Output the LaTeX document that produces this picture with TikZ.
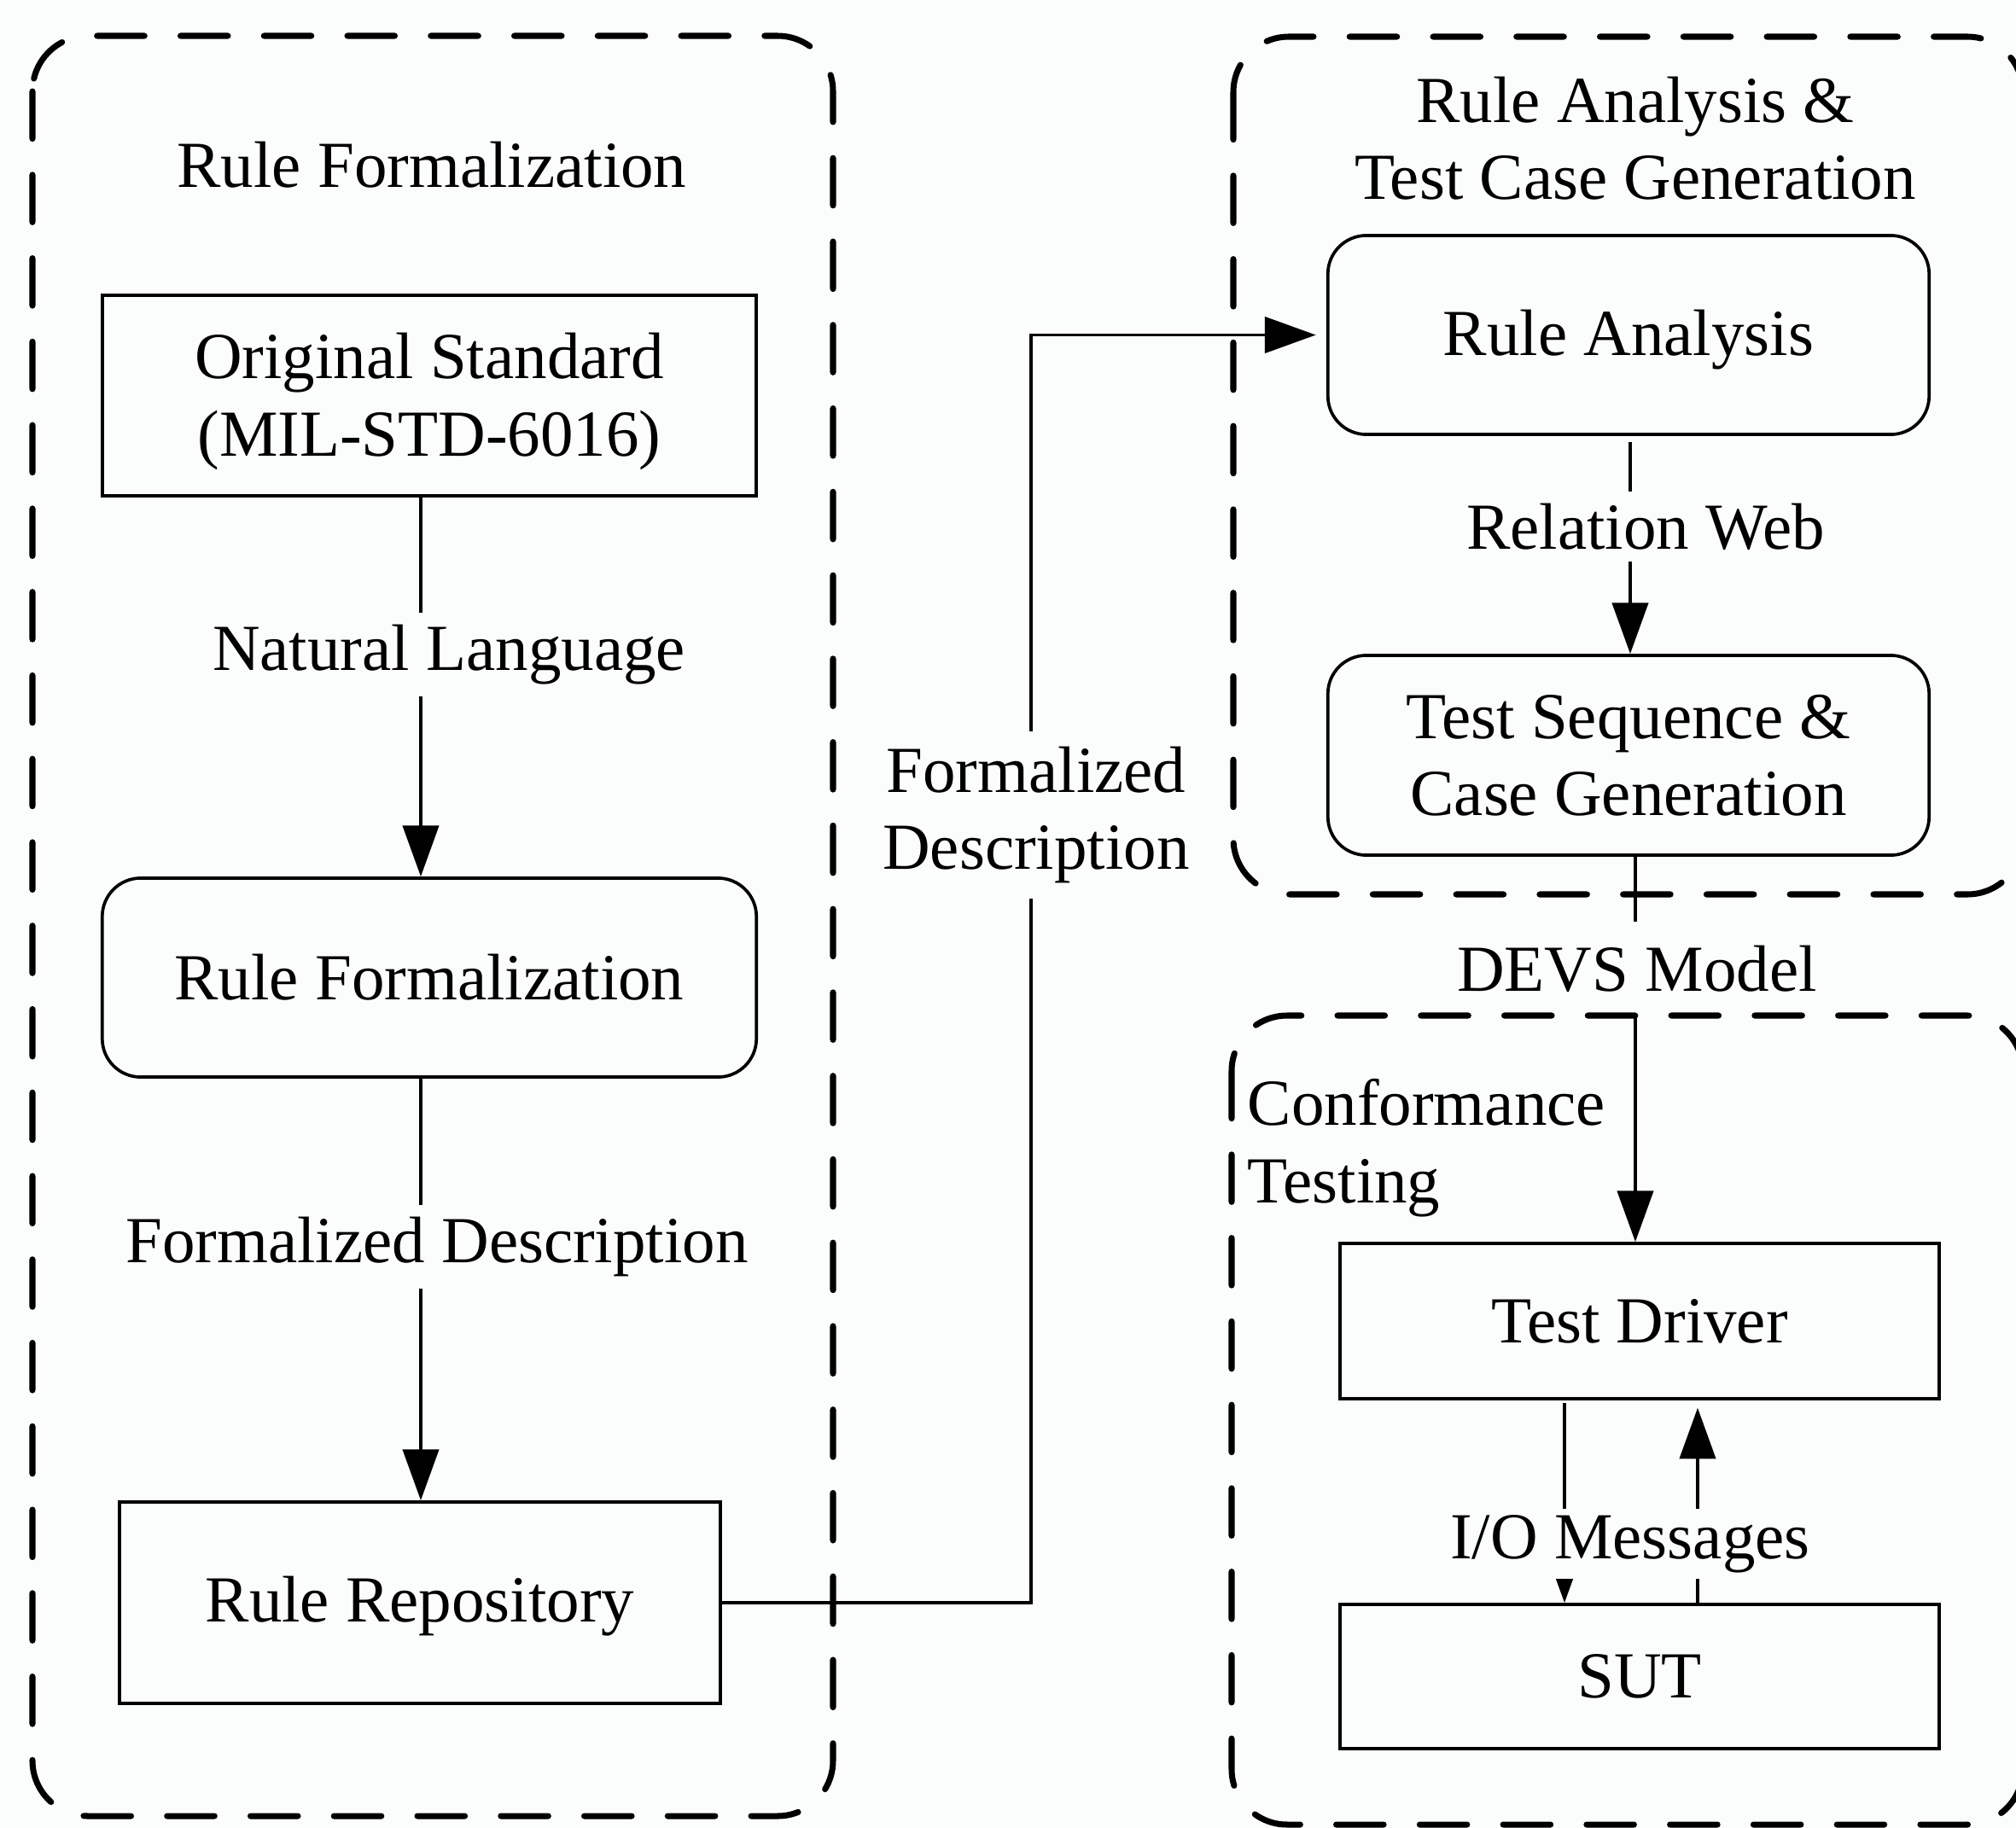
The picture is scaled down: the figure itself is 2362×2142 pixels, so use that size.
\documentclass[tikz,border=0pt]{standalone}
\usepackage{fontspec}
\setmainfont{Liberation Serif}
\usetikzlibrary{arrows.meta}
\definecolor{bgc}{RGB}{251,253,252}
\begin{document}
\begin{tikzpicture}[x=0.01cm,y=-0.01cm,
  font=\fontsize{21.9}{25.7}\selectfont,
  box/.style={draw, line width=1.05pt, fill=bgc, inner sep=0pt},
  rbox/.style={box, rounded corners=0.45cm},
  txt/.style={inner sep=0pt, align=center},
  lbl/.style={fill=bgc, inner xsep=3pt, inner ysep=4pt, align=center},
  conn/.style={line width=1.05pt},
  arr/.style={conn, -{Triangle[length=17pt,width=12pt]}},
  group/.style={line width=2pt, dash pattern=on 15.8pt off 12pt, line cap=round, rounded corners=0.65cm}]
\fill[bgc] (0,0) rectangle (2362,2142);
\useasboundingbox (0,0) rectangle (2362,2142);

% titles
\node[txt] (t1) at (506,193) {Rule Formalization};
\node[txt] (t2) at (1916,162) {Rule Analysis \&\\Test Case Generation};
\node[inner sep=0pt, align=left, anchor=west] (t3) at (1461,1345) {Conformance\\Testing};

% boxes
\node[box, minimum width=7.66cm, minimum height=2.35cm] (os) at (503,463.5) {};
\node[txt] (ost) at ([yshift=-2pt]os.center) {Original Standard\\(MIL-STD-6016)};
\node[rbox, minimum width=7.66cm, minimum height=2.33cm] (rf) at (503,1145.5) {};
\node[txt] (rft) at (rf.center) {Rule Formalization};
\node[box, minimum width=7.04cm, minimum height=2.36cm] (rr) at (492,1878) {};
\node[txt] (rrt) at ([yshift=-1.2pt]rr.center) {Rule Repository};
\node[rbox, minimum width=7.04cm, minimum height=2.33cm] (ra) at (1908,392.5) {};
\node[txt] (rat) at ([yshift=-1.7pt]ra.center) {Rule Analysis};
\node[rbox, minimum width=7.04cm, minimum height=2.34cm] (ts) at (1908,885) {};
\node[txt] (tst) at (ts.center) {Test Sequence \&\\Case Generation};
\node[box, minimum width=7.02cm, minimum height=1.82cm] (td) at (1921,1548) {};
\node[txt] (tdt) at (td.center) {Test Driver};
\node[box, minimum width=7.02cm, minimum height=1.69cm] (sut) at (1921,1964.5) {};
\node[txt] (sutt) at (sut.center) {SUT};

% helper coordinates
\coordinate (xa) at (493,0);
\coordinate (xm) at (1208,0);
\coordinate (x4) at (1910,0);
\coordinate (x5) at (1916,0);
\coordinate (x6a) at (1833,0);
\coordinate (x6b) at (1989,0);

% connectors
\draw[arr] (os.south -| xa) -- (rf.north -| xa);
\node[lbl] (l1) at (526,767) {Natural Language};
\draw[arr] (rf.south -| xa) -- (rr.north -| xa);
\node[lbl] (l2) at (512,1461) {Formalized Description};
\draw[arr, shorten >=3.5pt] (rr.east) -| (xm |- ra.west) -- (ra.west);
\node[lbl, inner ysep=5pt] (l3) at (1214,955) {Formalized\\Description};
\draw[arr, shorten <=2pt] (ra.south -| x4) -- (ts.north -| x4);
\node[lbl] (l4) at (1928,617) {Relation Web};
\draw[arr] (ts.south -| x5) -- (td.north -| x5);
\node[lbl, inner ysep=8pt] (l5) at (1918,1135) {DEVS Model};
\draw[arr, shorten <=1pt] (td.south -| x6a) -- (sut.north -| x6a);
\draw[arr, shorten >=2.5pt] (sut.north -| x6b) -- (td.south -| x6b);
\node[lbl, inner ysep=2pt] (l6) at (1910,1809) {I/O Messages};

% dashed groups
\draw[group] (38,42) rectangle (976,2128);
\draw[group] (1445,43) rectangle (2370,1048);
\draw[group] (1443,1190) rectangle (2370,2138);
\end{tikzpicture}
\end{document}
